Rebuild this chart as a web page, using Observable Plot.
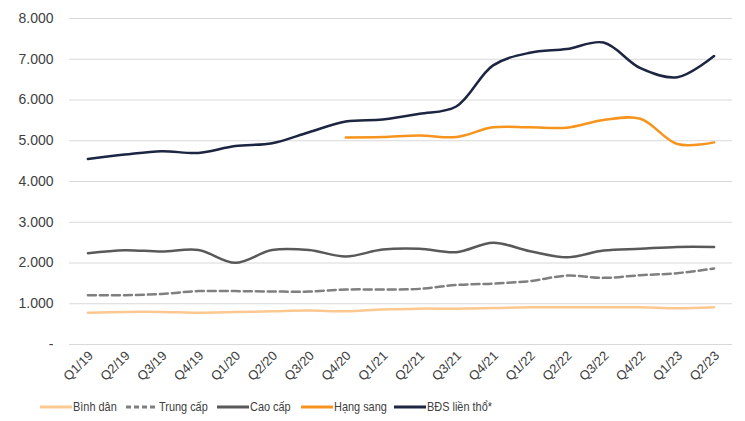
<!DOCTYPE html>
<html>
<head>
<meta charset="utf-8">
<script src="https://cdn.jsdelivr.net/npm/d3@7"></script>
<script src="https://cdn.jsdelivr.net/npm/@observablehq/plot@0.6"></script>
<style>
  body { margin: 0; background: #fff; font-family: "Liberation Sans", Arial, sans-serif; }
  #legend { display: flex; justify-content: flex-start; align-items: center; gap: 10px; font-size: 13px; color: #404040; height: 29px; padding-left: 40px; }
  .item { display: flex; align-items: center; gap: 1px; white-space: nowrap; overflow: visible; }
  .item span { display: inline-block; transform: scaleX(0.84); transform-origin: left center; }
</style>
</head>
<body>
<div id="chart"></div>
<div id="legend"></div>
<script>
const quarters = ["Q1/19","Q2/19","Q3/19","Q4/19","Q1/20","Q2/20","Q3/20","Q4/20","Q1/21","Q2/21","Q3/21","Q4/21","Q1/22","Q2/22","Q3/22","Q4/22","Q1/23","Q2/23"];
const binhDan  = [780,800,800,780,795,815,835,815,860,880,880,895,915,915,915,915,890,915];
const trungCap = [1210,1210,1240,1310,1310,1300,1300,1350,1350,1365,1460,1495,1555,1690,1635,1700,1750,1865];
const caoCap   = [2240,2315,2280,2320,2005,2320,2320,2160,2330,2350,2265,2495,2290,2140,2305,2350,2395,2395];
const hangSang = [null,null,null,null,null,null,null,5080,5090,5130,5090,5330,5330,5320,5510,5540,4920,4960];
const bdsLienTho = [4550,4660,4745,4700,4870,4940,5210,5470,5520,5660,5840,6850,7160,7250,7410,6780,6560,7080];
const yTicks = [0,1000,2000,3000,4000,5000,6000,7000,8000];

const seriesNames = ["Bình dân","Trung cấp","Cao cấp","Hạng sang","BĐS liền thổ*"];
const seriesValues = [binhDan, trungCap, caoCap, hangSang, bdsLienTho];
const seriesColors = ["#fdc890","#7f7f7f","#595959","#f7941d","#1c2541"];
const seriesDash = [null,"8,4",null,null,null];
const legendDash = [null,"5,3",null,null,null];
const legendWidths = [76, 81, 74, 83, 95];

const rows = [];
seriesNames.forEach((s, i) => seriesValues[i].forEach((v, j) => {
  if (v != null) rows.push({series: s, q: quarters[j], v});
}));

const fmt = d => d === 0 ? "-" : d3.format(",")(d).replace(/,/g, ".");

const marks = [
  Plot.gridY(yTicks, {stroke: "#d9d9d9", strokeOpacity: 1, strokeWidth: 1.2}),
  Plot.axisY(yTicks, {tickSize: 0, tickPadding: 16, tickFormat: fmt, fontSize: 14, fill: "#404040"}),
  Plot.axisX({tickSize: 0, tickRotate: -45, tickPadding: 9, dx: 3, fontSize: 13, fill: "#404040"})
];
seriesNames.forEach((s, i) => {
  marks.push(Plot.line(rows.filter(r => r.series === s), {
    x: "q", y: "v", stroke: seriesColors[i], strokeWidth: 2.5,
    strokeDasharray: seriesDash[i] || undefined, curve: "catmull-rom"
  }));
});

const chart = Plot.plot({
  width: 745,
  height: 392,
  marginLeft: 69,
  marginRight: 13,
  marginTop: 18,
  marginBottom: 48,
  style: {fontFamily: "'Liberation Sans', Arial, sans-serif", background: "#fff"},
  x: {type: "point", domain: quarters, padding: 0.5, round: false, label: null},
  y: {domain: [0, 8000], label: null},
  marks
});
document.getElementById("chart").appendChild(chart);

const legend = document.getElementById("legend");
seriesNames.forEach((s, i) => {
  const item = document.createElement("div");
  item.className = "item";
  item.style.width = legendWidths[i] + "px";
  item.innerHTML = `<svg width="32" height="6" style="flex:none"><line x1="0" x2="32" y1="3" y2="3" stroke="${seriesColors[i]}" stroke-width="3" ${legendDash[i] ? `stroke-dasharray="${legendDash[i]}"` : ""}/></svg><span>${s}</span>`;
  legend.appendChild(item);
});
</script>
</body>
</html>
